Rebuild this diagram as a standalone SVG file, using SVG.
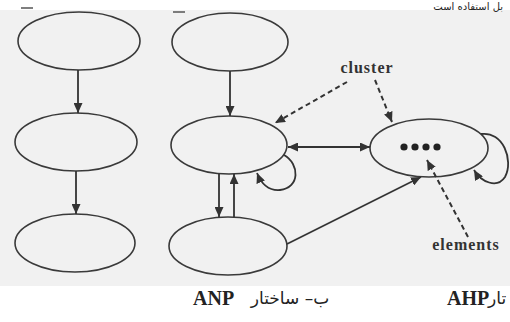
<svg xmlns="http://www.w3.org/2000/svg" width="510" height="322" viewBox="0 0 510 322">
  <style>
    .node { fill: none; stroke: #3a3a3a; stroke-width: 1.6; }
    .edge { fill: none; stroke: #333; stroke-width: 1.8; }
    .dash { fill: none; stroke: #333; stroke-width: 2; stroke-dasharray: 5 3.5; }
    .lbl { font-family: "Liberation Serif", "Times New Roman", serif; font-weight: bold; font-size: 16px; fill: #333; letter-spacing: 1px; }
    .cap { font-family: "Liberation Serif", "Times New Roman", serif; font-weight: bold; font-size: 20px; fill: #222; }
    .fa { font-family: "DejaVu Sans", "Noto Sans", sans-serif; font-size: 17px; fill: #222; }
    .top { font-family: "DejaVu Sans", "Noto Sans", sans-serif; font-size: 10px; fill: #222; }
  </style>
  <defs>
    <marker id="ah" markerUnits="userSpaceOnUse" markerWidth="11" markerHeight="9" refX="10" refY="4.5" orient="auto-start-reverse">
      <path d="M0,0 L10,4.5 L0,9 z" fill="#333"/>
    </marker>
  </defs>
  <rect x="0" y="0" width="510" height="322" fill="#ffffff"/>
  <rect x="0" y="10" width="510" height="276" fill="#f1f1f1"/>

  <!-- stray marks at top -->
  <g id="marks" stroke="#555" stroke-width="1.5">
    <line x1="21" y1="8" x2="33" y2="8"/>
    <line x1="173" y1="12" x2="185" y2="12"/>
  </g>

  <!-- AHP column -->
  <g id="ahp-1"><ellipse class="node" cx="79" cy="41" rx="61" ry="29"/></g>
  <g id="ahp-2"><ellipse class="node" cx="76" cy="142" rx="61" ry="29"/></g>
  <g id="ahp-3"><ellipse class="node" cx="75" cy="243" rx="60" ry="29"/></g>

  <!-- ANP column -->
  <g id="anp-1"><ellipse class="node" cx="230" cy="42" rx="58" ry="29"/></g>
  <g id="anp-2"><ellipse class="node" cx="229" cy="145" rx="58" ry="29"/></g>
  <g id="anp-3"><ellipse class="node" cx="228" cy="246" rx="59" ry="29"/></g>
  <g id="anp-4">
    <ellipse class="node" cx="429" cy="148" rx="59" ry="29"/>
    <g fill="#222">
      <circle cx="404" cy="147" r="3.6"/>
      <circle cx="415" cy="147" r="3.6"/>
      <circle cx="426" cy="147" r="3.6"/>
      <circle cx="437" cy="147" r="3.6"/>
    </g>
  </g>

  <g id="connectors">
    <line class="edge" x1="78" y1="70" x2="78" y2="113" marker-end="url(#ah)"/>
    <line class="edge" x1="76" y1="171" x2="76" y2="214" marker-end="url(#ah)"/>
    <line class="edge" x1="230" y1="71" x2="230" y2="116" marker-end="url(#ah)"/>
    <line class="edge" x1="219" y1="174" x2="219" y2="217" marker-end="url(#ah)"/>
    <line class="edge" x1="234" y1="217" x2="234" y2="174" marker-end="url(#ah)"/>
    <path class="edge" d="M284,155 C300,164 300,188 280,190 C268,191 261,183 257,173" marker-end="url(#ah)"/>
    <line class="edge" x1="288" y1="147" x2="370" y2="147" marker-start="url(#ah)" marker-end="url(#ah)"/>
    <line class="edge" x1="287" y1="244" x2="421" y2="177" marker-end="url(#ah)"/>
    <path class="edge" d="M481,134 C503,131 514,160 505,177 C497,189 481,182 474,170" marker-end="url(#ah)"/>
    <line class="dash" x1="347" y1="82" x2="275" y2="123" marker-end="url(#ah)"/>
    <line class="dash" x1="375" y1="80" x2="392" y2="122" marker-end="url(#ah)"/>
    <line class="dash" x1="468" y1="237" x2="427" y2="160" marker-end="url(#ah)"/>
  </g>

  <text class="lbl" x="367" y="73" text-anchor="middle">cluster</text>
  <text class="lbl" x="466" y="250" text-anchor="middle">elements</text>

  <text class="top" x="503" y="10" text-anchor="end">بل استفاده است</text>

  <text class="cap" x="193" y="305">ANP</text>
  <text class="fa" x="290" y="304" text-anchor="middle">ب– ساختار</text>
  <text class="cap" x="447" y="305">AHP</text>
  <text class="fa" x="488" y="304">تار</text>
</svg>
